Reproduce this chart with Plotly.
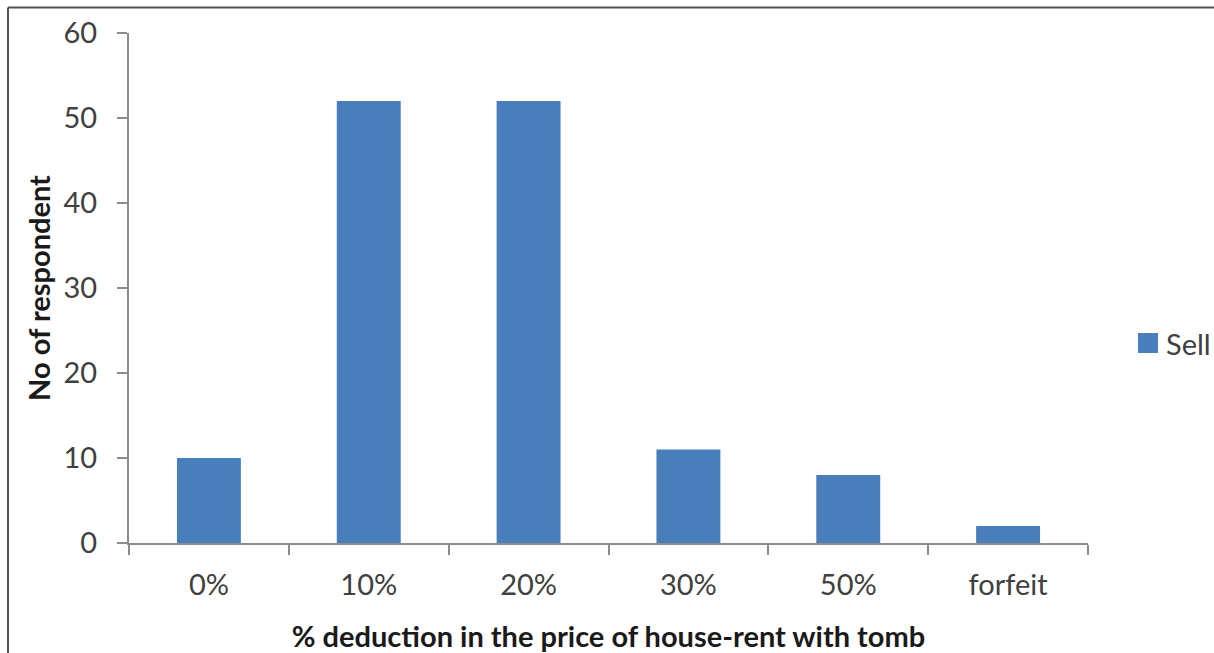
import plotly.graph_objects as go

# Survey responses: deduction in rent price accepted for a house with a tomb
categories = ["0%", "10%", "20%", "30%", "50%", "forfeit"]
sell_counts = [10, 52, 52, 11, 8, 2]
y_ticks = [0, 10, 20, 30, 40, 50, 60]
series_name = "Sell"

W, H = 1214, 653
L, R, T, B = 129, 126, 33, 110
pw, ph = W - L - R, H - T - B

font_family = "Lato, Carlito, Calibri, sans-serif"
axis_grey = "#8c8c8c"
bar_color = "#4a7ebb"
label_grey = "#404040"


def px_x(p):
    return (p - L) / pw


def px_y(p):
    return (H - B - p) / ph


fig = go.Figure()
fig.add_trace(go.Bar(
    x=categories,
    y=sell_counts,
    name=series_name,
    marker=dict(color=bar_color, line=dict(width=0)),
    showlegend=False,
))

# frame lines along the top and left edge of the page
bx = px_x(8)
by = px_y(7.5)
fig.add_shape(type="line", xref="paper", yref="paper",
              x0=bx, y0=px_y(H + 2), x1=bx, y1=by,
              line=dict(color="#555555", width=2))
fig.add_shape(type="line", xref="paper", yref="paper",
              x0=bx, y0=by, x1=px_x(W + 2), y1=by,
              line=dict(color="#555555", width=2))

# legend entry: swatch + label
fig.add_shape(type="rect", xref="paper", yref="paper",
              x0=px_x(1138), x1=px_x(1158), y0=px_y(353), y1=px_y(333),
              fillcolor=bar_color, line=dict(width=0))
fig.add_annotation(xref="paper", yref="paper", x=px_x(1164), y=px_y(343),
                   xanchor="left", yanchor="middle", showarrow=False,
                   text=series_name, font=dict(size=29, color=label_grey))

fig.update_layout(
    width=W, height=H,
    margin=dict(l=L, r=R, t=T, b=B, autoexpand=False),
    paper_bgcolor="white",
    plot_bgcolor="white",
    bargap=0.6,
    font=dict(family=font_family, color=label_grey, size=29),
    showlegend=False,
    xaxis=dict(
        type="category",
        showline=True, linecolor=axis_grey, linewidth=2,
        ticks="outside", tickson="boundaries", ticklen=10,
        tickcolor=axis_grey, tickwidth=2,
        showgrid=False, zeroline=False,
        tickfont=dict(size=29, color=label_grey),
        ticklabelstandoff=15,
        title=dict(
            text="<b>% deduction in the price of house-rent with tomb</b>",
            font=dict(size=29, color="#1a1a1a"),
            standoff=27,
        ),
    ),
    yaxis=dict(
        range=[0, 60],
        tickvals=y_ticks,
        showline=True, linecolor=axis_grey, linewidth=2,
        ticks="outside", ticklen=10, tickcolor=axis_grey, tickwidth=2,
        showgrid=False, zeroline=False,
        tickfont=dict(size=29, color=label_grey),
        ticklabelstandoff=14,
        title=dict(
            text="<b>No of respondent</b>",
            font=dict(size=29, color="#1a1a1a"),
            standoff=4,
        ),
    ),
)

fig.write_html("out.html")
